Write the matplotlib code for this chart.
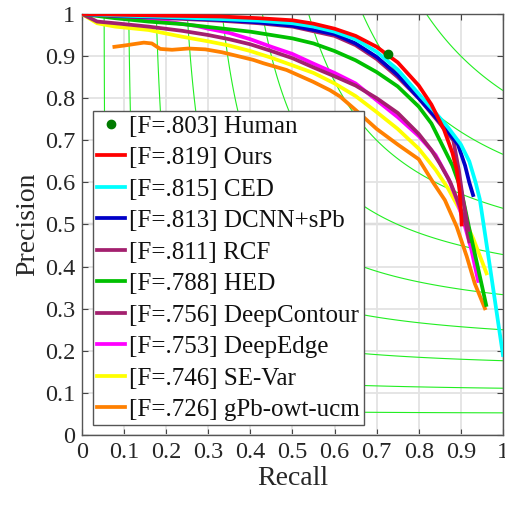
import numpy as np
import matplotlib
matplotlib.use('Agg')
import matplotlib.pyplot as plt

plt.rcParams['font.family'] = ['Liberation Serif', 'DejaVu Serif']

# precision / recall curves
ours_r = [0.0, 0.10, 0.20, 0.33, 0.42, 0.50, 0.55, 0.60, 0.65, 0.70, 0.75, 0.80, 0.83, 0.86, 0.88, 0.89, 0.897, 0.902]
ours_p = [1.0, 0.998, 0.996, 0.994, 0.99, 0.985, 0.977, 0.965, 0.948, 0.922, 0.885, 0.830, 0.785, 0.725, 0.670, 0.630, 0.580, 0.500]

ced_r = [0.0, 0.10, 0.20, 0.33, 0.42, 0.50, 0.55, 0.60, 0.65, 0.70, 0.75, 0.80, 0.84, 0.87, 0.90, 0.92, 0.935, 0.945, 0.969, 1.0]
ced_p = [1.0, 0.996, 0.993, 0.988, 0.984, 0.978, 0.970, 0.958, 0.940, 0.910, 0.868, 0.810, 0.765, 0.730, 0.690, 0.650, 0.600, 0.560, 0.400, 0.190]

dcnn_r = [0.0, 0.10, 0.20, 0.33, 0.42, 0.50, 0.60, 0.65, 0.70, 0.75, 0.80, 0.84, 0.87, 0.893, 0.910, 0.920, 0.929]
dcnn_p = [1.0, 0.995, 0.992, 0.986, 0.980, 0.972, 0.952, 0.930, 0.898, 0.855, 0.800, 0.755, 0.720, 0.690, 0.640, 0.600, 0.570]

rcf_r = [0.0, 0.10, 0.20, 0.33, 0.42, 0.50, 0.60, 0.65, 0.70, 0.75, 0.80, 0.84, 0.87, 0.882, 0.895, 0.905, 0.918]
rcf_p = [1.0, 0.994, 0.990, 0.984, 0.978, 0.970, 0.948, 0.926, 0.893, 0.850, 0.800, 0.752, 0.715, 0.700, 0.630, 0.560, 0.487]

hed_r = [0.0, 0.079, 0.158, 0.238, 0.328, 0.40, 0.50, 0.55, 0.60, 0.65, 0.70, 0.75, 0.80, 0.83, 0.86, 0.88, 0.90, 0.92, 0.94, 0.96]
hed_p = [1.0, 0.990, 0.982, 0.976, 0.966, 0.958, 0.942, 0.930, 0.912, 0.890, 0.862, 0.828, 0.780, 0.740, 0.680, 0.640, 0.585, 0.490, 0.400, 0.309]

dc_r = [0.0, 0.036, 0.079, 0.158, 0.238, 0.30, 0.35, 0.40, 0.45, 0.50, 0.55, 0.60, 0.65, 0.70, 0.75, 0.80, 0.83, 0.85,
        0.875, 0.898, 0.912, 0.920]
dc_p = [1.0, 0.982, 0.978, 0.970, 0.960, 0.950, 0.940, 0.928, 0.912, 0.895, 0.873, 0.852, 0.830, 0.800, 0.765, 0.715,
        0.677, 0.645, 0.600, 0.542, 0.500, 0.460]

de_r = [0.0, 0.10, 0.20, 0.27, 0.30, 0.35, 0.40, 0.45, 0.50, 0.55, 0.60, 0.65, 0.70, 0.75, 0.80, 0.84, 0.87, 0.89,
        0.91, 0.925, 0.941]
de_p = [1.0, 0.992, 0.982, 0.972, 0.965, 0.955, 0.940, 0.922, 0.905, 0.882, 0.860, 0.835, 0.795, 0.755, 0.710, 0.665,
        0.610, 0.560, 0.495, 0.440, 0.366]

sev_r = [0.0, 0.036, 0.079, 0.158, 0.238, 0.30, 0.35, 0.40, 0.45, 0.50, 0.55, 0.60, 0.65, 0.70, 0.75, 0.80, 0.84,
         0.87, 0.90, 0.93, 0.961]
sev_p = [1.0, 0.978, 0.970, 0.962, 0.946, 0.935, 0.925, 0.912, 0.896, 0.878, 0.860, 0.835, 0.805, 0.767, 0.727, 0.680,
         0.630, 0.585, 0.530, 0.465, 0.384]

gpb_r = [0.077, 0.10, 0.147, 0.166, 0.186, 0.214, 0.253, 0.293, 0.333, 0.407, 0.431, 0.486, 0.549, 0.589,
         0.613, 0.65, 0.70, 0.75, 0.80, 0.834, 0.862, 0.890, 0.914, 0.933, 0.957]
gpb_p = [0.922, 0.925, 0.932, 0.930, 0.917, 0.915, 0.918, 0.916, 0.909, 0.891, 0.883, 0.867, 0.839, 0.819,
         0.804, 0.772, 0.727, 0.690, 0.655, 0.600, 0.558, 0.495, 0.424, 0.360, 0.301]

human_r = [0.728]
human_p = [0.906]

labels = ['[F=.803] Human', '[F=.819] Ours', '[F=.815] CED', '[F=.813] DCNN+sPb', '[F=.811] RCF',
          '[F=.788] HED', '[F=.756] DeepContour', '[F=.753] DeepEdge', '[F=.746] SE-Var', '[F=.726] gPb-owt-ucm']
colors = ['#ff0000', '#00ffff', '#0000c8', '#a3206e', '#00c000', '#a3206e', '#ff00ff', '#ffff00', '#ff8000']
ticks = [0, 0.1, 0.2, 0.3, 0.4, 0.5, 0.6, 0.7, 0.8, 0.9, 1]
tick_labels = ['0', '0.1', '0.2', '0.3', '0.4', '0.5', '0.6', '0.7', '0.8', '0.9', '1']
iso_levels = [0.1, 0.2, 0.3, 0.4, 0.5, 0.6, 0.7, 0.8, 0.9]

curves = [(ours_r, ours_p), (ced_r, ced_p), (dcnn_r, dcnn_p), (rcf_r, rcf_p), (hed_r, hed_p),
          (dc_r, dc_p), (de_r, de_p), (sev_r, sev_p), (gpb_r, gpb_p)]

fig = plt.figure(figsize=(5.06, 5.05), dpi=100)
ax = fig.add_axes([0.162, 0.1386, 0.832, 0.8337])

# iso-F lines
g = np.linspace(0.005, 1, 400)
R, P = np.meshgrid(g, g)
F = 2 * P * R / (P + R)
ax.contour(R, P, F, levels=iso_levels, colors='#22ee22', linewidths=0.8, zorder=2)

ax.grid(True, color='#e3e3e3', lw=1.3, zorder=0)
ax.axhline(0.5, color='#a8a8a8', lw=1.6, zorder=1)

handles = []
h, = ax.plot(human_r, human_p, 'o', color='#007a00', ms=6, zorder=5)
handles.append(h)
# draw bottom curves first so the best ones sit on top
lines = [None] * len(curves)
for i in range(len(curves) - 1, -1, -1):
    r, p = curves[i]
    lines[i], = ax.plot(r, p, color=colors[i], lw=2.7, zorder=3 + (len(curves) - i) * 0.01,
                        solid_joinstyle='round')
handles += lines

ax.set_xlim(0, 1)
ax.set_ylim(0, 1)
ax.set_xticks(ticks)
ax.set_yticks(ticks)
ax.set_xticklabels(tick_labels)
ax.set_yticklabels(tick_labels)
ax.tick_params(direction='in', length=4, width=0.8, top=True, right=True,
               labelsize=17.5, colors='#444444', labelcolor='#262626', pad=5)
for s in ax.spines.values():
    s.set_color('#555555')
    s.set_linewidth(1.0)
ax.set_xlabel('Recall', fontsize=20, color='#262626', labelpad=2)
ax.set_ylabel('Precision', fontsize=20, color='#262626', labelpad=3)

leg = ax.legend(handles, labels, loc='lower left', bbox_to_anchor=(0.026, 0.024), borderaxespad=0,
                fontsize=18, handlelength=1.15, handletextpad=0.15, borderpad=0.15,
                labelspacing=0.36, fancybox=False, framealpha=1, edgecolor='#555555')
leg.get_frame().set_linewidth(1.0)
leg.set_zorder(10)
for t in leg.get_texts():
    t.set_color('#111111')

fig.savefig('out.png', dpi=100)
